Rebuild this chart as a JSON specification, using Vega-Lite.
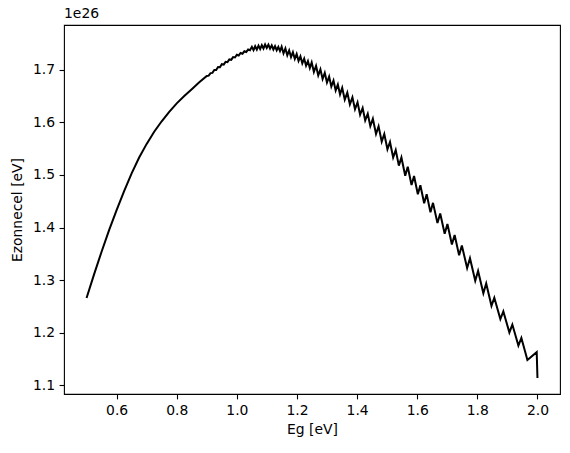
{
  "$schema": "https://vega.github.io/schema/vega-lite/v6.json",
  "width": 496,
  "height": 369,
  "autosize": "none",
  "padding": {"left": 64, "top": 25, "right": 10, "bottom": 59},
  "background": "white",
  "config": {
    "view": {"stroke": "black", "strokeWidth": 1.1},
    "axis": {
      "labelFont": "DejaVu Sans", "labelFontSize": 13.9, "labelColor": "black",
      "tickColor": "black", "tickWidth": 1.1, "tickSize": 4.9, "labelPadding": 4.5,
      "grid": false, "domain": false,
      "titleFont": "DejaVu Sans", "titleFontSize": 13.9, "titleFontWeight": "normal", "titleColor": "black"
    },
    "title": {"font": "DejaVu Sans", "fontSize": 13.9, "fontWeight": "normal", "color": "black"}
  },
  "title": {"text": "1e26", "anchor": "start", "frame": "group", "offset": 4},
  "data": {"values": [
    {"Eg":0.500,"E":1.266},{"Eg":0.525,"E":1.311},{"Eg":0.550,"E":1.354},{"Eg":0.575,"E":1.395},
    {"Eg":0.600,"E":1.433},{"Eg":0.625,"E":1.469},{"Eg":0.650,"E":1.503},{"Eg":0.675,"E":1.533},
    {"Eg":0.700,"E":1.559},{"Eg":0.725,"E":1.582},{"Eg":0.750,"E":1.602},{"Eg":0.775,"E":1.620},
    {"Eg":0.800,"E":1.636},{"Eg":0.825,"E":1.650},{"Eg":0.850,"E":1.663},{"Eg":0.875,"E":1.676},
    {"Eg":0.9000,"E":1.6880},{"Eg":0.90625,"E":1.6888},{"Eg":0.9125,"E":1.6935},{"Eg":0.91875,"E":1.6940},
    {"Eg":0.9250,"E":1.6995},{"Eg":0.93125,"E":1.6993},{"Eg":0.9375,"E":1.7050},{"Eg":0.94375,"E":1.7048},
    {"Eg":0.9500,"E":1.7105},{"Eg":0.95625,"E":1.7098},{"Eg":0.9625,"E":1.7150},{"Eg":0.96875,"E":1.7143},
    {"Eg":0.9750,"E":1.7195},{"Eg":0.98125,"E":1.7188},{"Eg":0.9875,"E":1.7240},{"Eg":0.99375,"E":1.7233},
    {"Eg":1.0000,"E":1.7285},{"Eg":1.00625,"E":1.7271},{"Eg":1.0125,"E":1.7318},{"Eg":1.01875,"E":1.7304},
    {"Eg":1.0250,"E":1.7350},{"Eg":1.03125,"E":1.7336},{"Eg":1.0375,"E":1.7383},{"Eg":1.04375,"E":1.7369},
    {"Eg":1.0500,"E":1.7435},{"Eg":1.0555,"E":1.7371},{"Eg":1.0610,"E":1.7446},{"Eg":1.0665,"E":1.7382},
    {"Eg":1.0720,"E":1.7457},{"Eg":1.0775,"E":1.7393},{"Eg":1.0830,"E":1.7468},{"Eg":1.0885,"E":1.7404},
    {"Eg":1.0940,"E":1.7479},{"Eg":1.0995,"E":1.7415},{"Eg":1.1050,"E":1.7478},{"Eg":1.1105,"E":1.7401},
    {"Eg":1.1160,"E":1.7463},{"Eg":1.1215,"E":1.7385},{"Eg":1.1270,"E":1.7447},{"Eg":1.1325,"E":1.7370},
    {"Eg":1.1380,"E":1.7432},{"Eg":1.1435,"E":1.7354},
    {"Eg":1.1490,"E":1.7436},{"Eg":1.15525,"E":1.7310},{"Eg":1.1615,"E":1.7403},{"Eg":1.16775,"E":1.7275},
    {"Eg":1.1740,"E":1.7368},{"Eg":1.18025,"E":1.7240},{"Eg":1.1865,"E":1.7333},{"Eg":1.19275,"E":1.7205},
    {"Eg":1.1990,"E":1.7298},{"Eg":1.20525,"E":1.7166},{"Eg":1.2115,"E":1.7254},{"Eg":1.21775,"E":1.7121},
    {"Eg":1.2240,"E":1.7209},{"Eg":1.23025,"E":1.7076},{"Eg":1.2365,"E":1.7164},{"Eg":1.24275,"E":1.7031},
    {"Eg":1.2490,"E":1.7139},{"Eg":1.25625,"E":1.6956},{"Eg":1.2635,"E":1.7073},{"Eg":1.27075,"E":1.6890},
    {"Eg":1.2780,"E":1.7006},{"Eg":1.28525,"E":1.6823},{"Eg":1.2925,"E":1.6940},{"Eg":1.29975,"E":1.6756},
    {"Eg":1.3070,"E":1.6869},{"Eg":1.31425,"E":1.6681},{"Eg":1.3215,"E":1.6793},{"Eg":1.32875,"E":1.6606},
    {"Eg":1.3360,"E":1.6718},{"Eg":1.34325,"E":1.6530},
    {"Eg":1.3505,"E":1.6657},{"Eg":1.3590,"E":1.6431},{"Eg":1.3675,"E":1.6566},{"Eg":1.3760,"E":1.6340},
    {"Eg":1.3845,"E":1.6474},{"Eg":1.3930,"E":1.6248},{"Eg":1.4015,"E":1.6380},{"Eg":1.4100,"E":1.6146},
    {"Eg":1.4185,"E":1.6272},{"Eg":1.4270,"E":1.6037},{"Eg":1.4355,"E":1.6163},{"Eg":1.4440,"E":1.5928},
    {"Eg":1.4525,"E":1.6066},{"Eg":1.46295,"E":1.5777},{"Eg":1.4715,"E":1.5922},{"Eg":1.48195,"E":1.5633},
    {"Eg":1.4905,"E":1.5777},{"Eg":1.50095,"E":1.5487},{"Eg":1.5095,"E":1.5627},{"Eg":1.51995,"E":1.5331},
    {"Eg":1.5285,"E":1.5471},{"Eg":1.53895,"E":1.5176},
    {"Eg":1.5475,"E":1.5331},{"Eg":1.5601,"E":1.4985},{"Eg":1.5685,"E":1.5154},{"Eg":1.5811,"E":1.4809},
    {"Eg":1.5895,"E":1.4978},{"Eg":1.6021,"E":1.4633},{"Eg":1.6105,"E":1.4804},{"Eg":1.6231,"E":1.4461},
    {"Eg":1.6315,"E":1.4632},{"Eg":1.6441,"E":1.4288},
    {"Eg":1.6525,"E":1.4469},{"Eg":1.6674,"E":1.4084},{"Eg":1.6765,"E":1.4267},{"Eg":1.6914,"E":1.3882},
    {"Eg":1.7005,"E":1.4066},{"Eg":1.7154,"E":1.3678},{"Eg":1.7245,"E":1.3859},{"Eg":1.7394,"E":1.3471},
    {"Eg":1.7485,"E":1.3658},{"Eg":1.76605,"E":1.3231},{"Eg":1.7755,"E":1.3415},{"Eg":1.79305,"E":1.2988},
    {"Eg":1.8025,"E":1.3173},{"Eg":1.82005,"E":1.2749},{"Eg":1.8295,"E":1.2935},{"Eg":1.84705,"E":1.2511},
    {"Eg":1.8565,"E":1.2665},{"Eg":1.8766,"E":1.2260},{"Eg":1.8865,"E":1.2405},{"Eg":1.9066,"E":1.2005},
    {"Eg":1.9165,"E":1.2155},{"Eg":1.9366,"E":1.1755},{"Eg":1.9465,"E":1.1900},{"Eg":1.9666,"E":1.1480},
    {"Eg":1.9975,"E":1.1630},{"Eg":2.0000,"E":1.1140}
  ]},
  "mark": {"type": "line", "color": "black", "strokeWidth": 2, "clip": true},
  "encoding": {
    "x": {
      "field": "Eg", "type": "quantitative",
      "scale": {"domain": [0.425, 2.075], "nice": false, "zero": false},
      "axis": {"values": [0.6, 0.8, 1.0, 1.2, 1.4, 1.6, 1.8, 2.0], "format": ".1f", "title": "Eg [eV]", "titlePadding": 5}
    },
    "y": {
      "field": "E", "type": "quantitative",
      "scale": {"domain": [1.0835, 1.785], "nice": false, "zero": false},
      "axis": {"values": [1.1, 1.2, 1.3, 1.4, 1.5, 1.6, 1.7], "format": ".1f", "title": "Ezonnecel [eV]", "titlePadding": 8}
    }
  }
}
